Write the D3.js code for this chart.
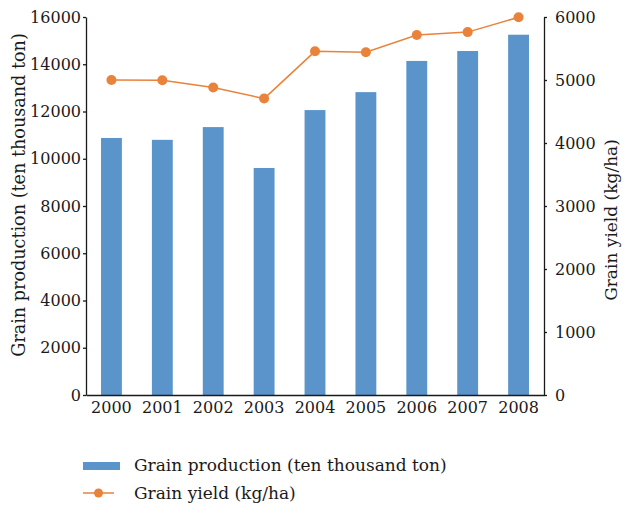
<!DOCTYPE html>
<html>
<head>
<meta charset="utf-8">
<script src="https://cdn.jsdelivr.net/npm/d3@7"></script>
<style>
  body { margin: 0; background: #fff; }
  text { font-family: "DejaVu Serif", serif; fill: #1a1a1a; }
</style>
</head>
<body>
<svg></svg>
<script>
const years = ["2000", "2001", "2002", "2003", "2004", "2005", "2006", "2007", "2008"];
const production = [10880, 10800, 11340, 9610, 12060, 12820, 14140, 14560, 15250];
const yieldVals = [5000, 4995, 4880, 4705, 5455, 5440, 5715, 5760, 5995];
const leftTicks = [0, 2000, 4000, 6000, 8000, 10000, 12000, 14000, 16000];
const rightTicks = [0, 1000, 2000, 3000, 4000, 5000, 6000];

const SVG_WIDTH = 623;
const SVG_HEIGHT = 506;
const LEFT = 86;
const RIGHT = 544;
const TOP = 17;
const BOTTOM = 395;
const BLUE = "#5b94cb";
const ORANGE = "#e9823a";

const svg = d3.select("svg").attr("width", SVG_WIDTH).attr("height", SVG_HEIGHT);

const x = d3.scaleBand().domain(years).range([LEFT, RIGHT]).paddingInner(0.59).paddingOuter(0.295);
const yLeft = d3.scaleLinear().domain([0, 16000]).range([BOTTOM, TOP]);
const yRight = d3.scaleLinear().domain([0, 6000]).range([BOTTOM, TOP]);

// bars
svg.append("g").selectAll("rect")
  .data(production)
  .enter()
  .append("rect")
  .attr("x", function(d, i) {return x(years[i])})
  .attr("y", function(d) {return yLeft(d)})
  .attr("width", x.bandwidth())
  .attr("height", function(d) {return BOTTOM - yLeft(d)})
  .attr("fill", BLUE);

// line
const line = d3.line()
  .x(function(d, i) {return x(years[i]) + x.bandwidth() / 2})
  .y(function(d) {return yRight(d)});
svg.append("path")
  .datum(yieldVals)
  .attr("d", line)
  .attr("fill", "none")
  .attr("stroke", ORANGE)
  .attr("stroke-width", 1.5);
svg.append("g").selectAll("circle")
  .data(yieldVals)
  .enter()
  .append("circle")
  .attr("cx", function(d, i) {return x(years[i]) + x.bandwidth() / 2})
  .attr("cy", function(d) {return yRight(d)})
  .attr("r", 5)
  .attr("fill", ORANGE);

// axes
const fmt = d3.format("d");
const leftAxis = svg.append("g")
  .attr("transform", "translate(" + LEFT + ",0)")
  .call(d3.axisLeft(yLeft).tickValues(leftTicks).tickFormat(fmt).tickSize(3).tickSizeOuter(0).tickPadding(2));
const rightAxis = svg.append("g")
  .attr("transform", "translate(" + RIGHT + ",0)")
  .call(d3.axisRight(yRight).tickValues(rightTicks).tickFormat(fmt).tickSize(3).tickSizeOuter(0).tickPadding(8));
const bottomAxis = svg.append("g")
  .attr("transform", "translate(0," + BOTTOM + ")")
  .call(d3.axisBottom(x).tickSize(0).tickSizeOuter(0).tickPadding(7));

[leftAxis, rightAxis, bottomAxis].forEach(function(a) {
  a.selectAll("path, line").attr("stroke", "#1a1a1a").attr("stroke-width", 1.3);
  a.selectAll("text").attr("font-size", 16).attr("font-family", "DejaVu Serif").attr("fill", "#1a1a1a");
});

// axis titles
svg.append("text")
  .attr("transform", "translate(25,195) rotate(-90)")
  .attr("text-anchor", "middle")
  .attr("font-size", 17.6)
  .text("Grain production (ten thousand ton)");
svg.append("text")
  .attr("transform", "translate(617,220) rotate(-90)")
  .attr("text-anchor", "middle")
  .attr("font-size", 17)
  .text("Grain yield (kg/ha)");

// legend
const legend = svg.append("g");
legend.append("rect")
  .attr("x", 83).attr("y", 462).attr("width", 37).attr("height", 8)
  .attr("fill", BLUE);
legend.append("text")
  .attr("x", 134).attr("y", 471)
  .attr("font-size", 17)
  .text("Grain production (ten thousand ton)");
legend.append("line")
  .attr("x1", 83).attr("x2", 114).attr("y1", 493).attr("y2", 493)
  .attr("stroke", ORANGE).attr("stroke-width", 1.5);
legend.append("circle")
  .attr("cx", 98.5).attr("cy", 493).attr("r", 4.5)
  .attr("fill", ORANGE);
legend.append("text")
  .attr("x", 134).attr("y", 499)
  .attr("font-size", 17)
  .text("Grain yield (kg/ha)");
</script>
</body>
</html>
